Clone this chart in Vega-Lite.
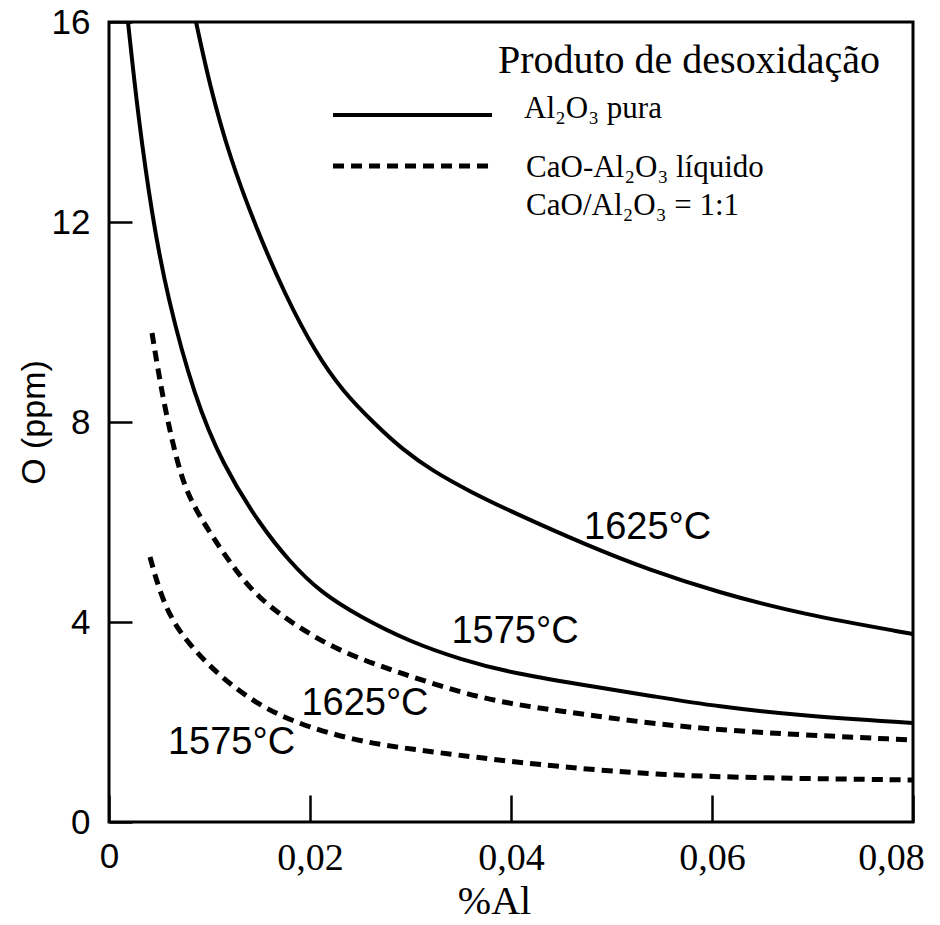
{
  "$schema": "https://vega.github.io/schema/vega-lite/v6.json",
  "width": 804,
  "height": 800,
  "padding": {"left": 17, "top": 5, "right": 5, "bottom": 5},
  "background": "white",
  "config": {"view": {"stroke": "black", "strokeWidth": 3}, "font": "Liberation Sans"},
  "datasets": {
    "curves": [
      {"curve": "S1625", "dash": "solid", "x": 0.00866, "y": 16},
      {"curve": "S1625", "dash": "solid", "x": 0.0100, "y": 14.75},
      {"curve": "S1625", "dash": "solid", "x": 0.0120, "y": 13.3},
      {"curve": "S1625", "dash": "solid", "x": 0.0147, "y": 11.85},
      {"curve": "S1625", "dash": "solid", "x": 0.0175, "y": 10.55},
      {"curve": "S1625", "dash": "solid", "x": 0.0205, "y": 9.4},
      {"curve": "S1625", "dash": "solid", "x": 0.0233, "y": 8.6},
      {"curve": "S1625", "dash": "solid", "x": 0.0265, "y": 7.95},
      {"curve": "S1625", "dash": "solid", "x": 0.0292, "y": 7.45},
      {"curve": "S1625", "dash": "solid", "x": 0.0322, "y": 7.02},
      {"curve": "S1625", "dash": "solid", "x": 0.0360, "y": 6.6},
      {"curve": "S1625", "dash": "solid", "x": 0.0399, "y": 6.22},
      {"curve": "S1625", "dash": "solid", "x": 0.0476, "y": 5.53},
      {"curve": "S1625", "dash": "solid", "x": 0.0538, "y": 5.04},
      {"curve": "S1625", "dash": "solid", "x": 0.0605, "y": 4.6},
      {"curve": "S1625", "dash": "solid", "x": 0.0688, "y": 4.16},
      {"curve": "S1625", "dash": "solid", "x": 0.08, "y": 3.76},
      {"curve": "S1575", "dash": "solid", "x": 0.00189, "y": 16},
      {"curve": "S1575", "dash": "solid", "x": 0.0029, "y": 14.1},
      {"curve": "S1575", "dash": "solid", "x": 0.0043, "y": 12.1},
      {"curve": "S1575", "dash": "solid", "x": 0.0058, "y": 10.5},
      {"curve": "S1575", "dash": "solid", "x": 0.0085, "y": 8.5},
      {"curve": "S1575", "dash": "solid", "x": 0.0113, "y": 7.15},
      {"curve": "S1575", "dash": "solid", "x": 0.0150, "y": 5.95},
      {"curve": "S1575", "dash": "solid", "x": 0.0180, "y": 5.2},
      {"curve": "S1575", "dash": "solid", "x": 0.0210, "y": 4.6},
      {"curve": "S1575", "dash": "solid", "x": 0.0250, "y": 4.1},
      {"curve": "S1575", "dash": "solid", "x": 0.0300, "y": 3.6},
      {"curve": "S1575", "dash": "solid", "x": 0.0350, "y": 3.25},
      {"curve": "S1575", "dash": "solid", "x": 0.0400, "y": 2.98},
      {"curve": "S1575", "dash": "solid", "x": 0.0490, "y": 2.68},
      {"curve": "S1575", "dash": "solid", "x": 0.0540, "y": 2.52},
      {"curve": "S1575", "dash": "solid", "x": 0.0605, "y": 2.31},
      {"curve": "S1575", "dash": "solid", "x": 0.0690, "y": 2.12},
      {"curve": "S1575", "dash": "solid", "x": 0.08, "y": 1.98},
      {"curve": "D1625", "dash": "dashed", "x": 0.00428, "y": 9.78},
      {"curve": "D1625", "dash": "dashed", "x": 0.00537, "y": 8.44},
      {"curve": "D1625", "dash": "dashed", "x": 0.00687, "y": 7.1},
      {"curve": "D1625", "dash": "dashed", "x": 0.00806, "y": 6.44},
      {"curve": "D1625", "dash": "dashed", "x": 0.01005, "y": 5.78},
      {"curve": "D1625", "dash": "dashed", "x": 0.01234, "y": 5.1},
      {"curve": "D1625", "dash": "dashed", "x": 0.01473, "y": 4.5},
      {"curve": "D1625", "dash": "dashed", "x": 0.01871, "y": 3.9},
      {"curve": "D1625", "dash": "dashed", "x": 0.02328, "y": 3.38},
      {"curve": "D1625", "dash": "dashed", "x": 0.02896, "y": 2.98},
      {"curve": "D1625", "dash": "dashed", "x": 0.03721, "y": 2.44},
      {"curve": "D1625", "dash": "dashed", "x": 0.04488, "y": 2.22},
      {"curve": "D1625", "dash": "dashed", "x": 0.05483, "y": 1.94},
      {"curve": "D1625", "dash": "dashed", "x": 0.06478, "y": 1.78},
      {"curve": "D1625", "dash": "dashed", "x": 0.08, "y": 1.64},
      {"curve": "D1575", "dash": "dashed", "x": 0.00408, "y": 5.3},
      {"curve": "D1575", "dash": "dashed", "x": 0.00507, "y": 4.58},
      {"curve": "D1575", "dash": "dashed", "x": 0.00657, "y": 3.9},
      {"curve": "D1575", "dash": "dashed", "x": 0.00935, "y": 3.24},
      {"curve": "D1575", "dash": "dashed", "x": 0.01234, "y": 2.7},
      {"curve": "D1575", "dash": "dashed", "x": 0.01532, "y": 2.3},
      {"curve": "D1575", "dash": "dashed", "x": 0.01801, "y": 2.04},
      {"curve": "D1575", "dash": "dashed", "x": 0.02169, "y": 1.78},
      {"curve": "D1575", "dash": "dashed", "x": 0.02597, "y": 1.58},
      {"curve": "D1575", "dash": "dashed", "x": 0.02995, "y": 1.46},
      {"curve": "D1575", "dash": "dashed", "x": 0.0362, "y": 1.3},
      {"curve": "D1575", "dash": "dashed", "x": 0.04488, "y": 1.1},
      {"curve": "D1575", "dash": "dashed", "x": 0.05483, "y": 0.94},
      {"curve": "D1575", "dash": "dashed", "x": 0.06478, "y": 0.88},
      {"curve": "D1575", "dash": "dashed", "x": 0.08, "y": 0.84},
      {"curve": "LegSolid", "dash": "solid", "x": 0.02229, "y": 14.14},
      {"curve": "LegSolid", "dash": "solid", "x": 0.03811, "y": 14.14},
      {"curve": "LegDash", "dash": "dashed", "x": 0.02229, "y": 13.12},
      {"curve": "LegDash", "dash": "dashed", "x": 0.03811, "y": 13.12}
    ],
    "temps": [
      {"x": 0.0536, "y": 5.88, "label": "1625°C"},
      {"x": 0.0404, "y": 3.8, "label": "1575°C"},
      {"x": 0.02547, "y": 2.37, "label": "1625°C"},
      {"x": 0.01219, "y": 1.59, "label": "1575°C"}
    ],
    "legendTitle": [
      {"x": 0.0387, "y": 14.98, "label": "Produto de desoxidação"}
    ],
    "legendText": [
      {"x": 0.0413, "y": 14.08, "label": "Al₂O₃ pura"},
      {"x": 0.0415, "y": 12.9, "label": "CaO-Al₂O₃ líquido"},
      {"x": 0.0415, "y": 12.14, "label": "CaO/Al₂O₃ = 1:1"}
    ]
  },
  "layer": [
    {
      "data": {"name": "curves"},
      "transform": [{"filter": "datum.dash == 'solid'"}],
      "mark": {"type": "line", "color": "black", "strokeWidth": 4, "interpolate": "basis"},
      "encoding": {
        "x": {
          "field": "x", "type": "quantitative",
          "scale": {"domain": [0, 0.08], "nice": false},
          "axis": {
            "values": [0, 0.02, 0.04, 0.06, 0.08],
            "labelExpr": "datum.value == 0 ? '0' : replace(format(datum.value, '.2f'), '.', ',')",
            "labelFont": {"condition": {"test": "datum.value == 0", "value": "Liberation Sans"}, "value": "Liberation Serif"},
            "labelFontSize": {"condition": {"test": "datum.value == 0", "value": 35}, "value": 38},
            "labelOffset": {"condition": {"test": "datum.value > 0.07", "value": -22}, "value": 0},
            "labelColor": "black",
            "labelFlush": false,
            "labelOverlap": false,
            "labelPadding": 44,
            "tickColor": "black",
            "tickSize": -27,
            "tickWidth": 2.5,
            "domain": false,
            "grid": false,
            "title": "%Al",
            "titleFont": "Liberation Serif",
            "titleFontSize": 40,
            "titleFontWeight": "normal",
            "titleColor": "black",
            "titlePadding": 4,
            "titleX": 385
          }
        },
        "y": {
          "field": "y", "type": "quantitative",
          "scale": {"domain": [0, 16], "nice": false},
          "axis": {
            "values": [0, 4, 8, 12, 16],
            "labelFont": "Liberation Sans",
            "labelFontSize": 35,
            "labelColor": "black",
            "labelFlush": false,
            "labelOverlap": false,
            "labelPadding": 42,
            "tickColor": "black",
            "tickSize": -23,
            "tickWidth": 2.5,
            "domain": false,
            "grid": false,
            "title": "O (ppm)",
            "titleFont": "Liberation Sans",
            "titleFontSize": 34,
            "titleFontWeight": "normal",
            "titleColor": "black",
            "titlePadding": 0
          }
        },
        "detail": {"field": "curve"}
      }
    },
    {
      "data": {"name": "curves"},
      "transform": [{"filter": "datum.dash == 'dashed'"}],
      "mark": {"type": "line", "color": "black", "strokeWidth": 5, "strokeDash": [11, 7], "interpolate": "basis"},
      "encoding": {
        "x": {"field": "x", "type": "quantitative"},
        "y": {"field": "y", "type": "quantitative"},
        "detail": {"field": "curve"}
      }
    },
    {
      "data": {"name": "temps"},
      "mark": {"type": "text", "font": "Liberation Sans", "fontSize": 38, "color": "black", "align": "center", "baseline": "middle"},
      "encoding": {
        "x": {"field": "x", "type": "quantitative"},
        "y": {"field": "y", "type": "quantitative"},
        "text": {"field": "label"}
      }
    },
    {
      "data": {"name": "legendTitle"},
      "mark": {"type": "text", "font": "Liberation Serif", "fontSize": 40, "color": "black", "align": "left", "baseline": "alphabetic"},
      "encoding": {
        "x": {"field": "x", "type": "quantitative"},
        "y": {"field": "y", "type": "quantitative"},
        "text": {"field": "label"}
      }
    },
    {
      "data": {"name": "legendText"},
      "mark": {"type": "text", "font": "Liberation Serif", "fontSize": 31, "color": "black", "align": "left", "baseline": "alphabetic"},
      "encoding": {
        "x": {"field": "x", "type": "quantitative"},
        "y": {"field": "y", "type": "quantitative"},
        "text": {"field": "label"}
      }
    }
  ]
}
